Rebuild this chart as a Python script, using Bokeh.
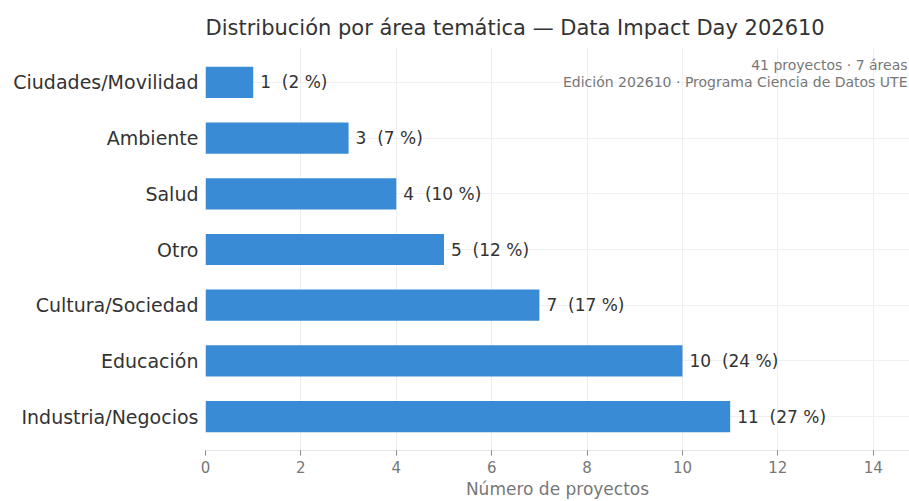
from bokeh.plotting import figure
from bokeh.models import ColumnDataSource, FactorRange, Range1d, Label, SingleIntervalTicker
from bokeh.embed import file_html
from bokeh.resources import INLINE
from bokeh.core.properties import value

categories = ["Industria/Negocios", "Educación", "Cultura/Sociedad", "Otro", "Salud", "Ambiente", "Ciudades/Movilidad"]
counts = [11, 10, 7, 5, 4, 3, 1]
percents = [27, 24, 17, 12, 10, 7, 2]
labels = [f"{c}\u00a0\u00a0({p}\u00a0%)" for c, p in zip(counts, percents)]
title_text = "Distribución por área temática — Data Impact Day 202610"
note_line1 = "41 proyectos · 7 áreas"
note_line2 = "Edición 202610 · Programa Ciencia de Datos UTE"

FONT = "DejaVu Sans"
src = ColumnDataSource(dict(cat=categories, n=counts, lab=labels))

p = figure(width=909, height=501, output_backend="svg", toolbar_location=None,
           y_range=FactorRange(factors=categories, range_padding=0.0314),
           x_range=Range1d(0, 14.76),
           min_border_left=205, min_border_right=0, min_border_top=48, min_border_bottom=51)
p.outline_line_color = None
p.background_fill_color = "white"

p.hbar(y="cat", right="n", height=0.56, left=0, source=src, fill_color="#3a8bd6", line_color=None)
p.text(x="n", y="cat", text="lab", source=src, x_offset=7, text_baseline="middle",
       text_font=value(FONT), text_font_size="17px", text_color="#333333")

p.title.text = title_text
p.title.align = "left"
p.title.text_font = FONT
p.title.text_font_size = "21px"
p.title.text_font_style = "normal"
p.title.text_color = "#333333"
p.title.standoff = 18

p.xgrid.grid_line_color = "#eeeeee"
p.ygrid.grid_line_color = "#f0f0f0"

p.xaxis.ticker = SingleIntervalTicker(interval=2, num_minor_ticks=0)
p.xaxis.axis_label = "Número de proyectos"
p.xaxis.axis_label_text_font = FONT
p.xaxis.axis_label_text_font_style = "normal"
p.xaxis.axis_label_text_font_size = "17px"
p.xaxis.axis_label_text_color = "#777777"
p.xaxis.axis_label_standoff = 3
p.xaxis.major_tick_out = 5
p.xaxis.major_tick_in = 0
p.xaxis.major_label_text_font = FONT
p.xaxis.major_label_text_font_size = "15px"
p.xaxis.major_label_text_color = "#777777"
p.xaxis.axis_line_color = "#e6e6e6"
p.xaxis.major_tick_line_color = "#888888"
p.xaxis.minor_tick_line_color = None

p.yaxis.major_label_text_font = FONT
p.yaxis.major_label_text_font_size = "19px"
p.yaxis.major_label_text_color = "#333333"
p.yaxis.axis_line_color = None
p.yaxis.major_tick_line_color = None
p.yaxis.major_tick_out = 0
p.yaxis.major_tick_in = 0
p.yaxis.major_label_standoff = 7

p.add_layout(Label(x=14.76, y=7.11, text=note_line1, text_align="right", text_baseline="top",
                   x_offset=-2, y_offset=-9, text_font=FONT, text_font_size="14px", text_color="#777777"))
p.add_layout(Label(x=14.76, y=7.11, text=note_line2, text_align="right", text_baseline="top",
                   x_offset=-2, y_offset=-26, text_font=FONT, text_font_size="14px", text_color="#777777"))

open("out.html", "w").write(file_html(p, INLINE))
